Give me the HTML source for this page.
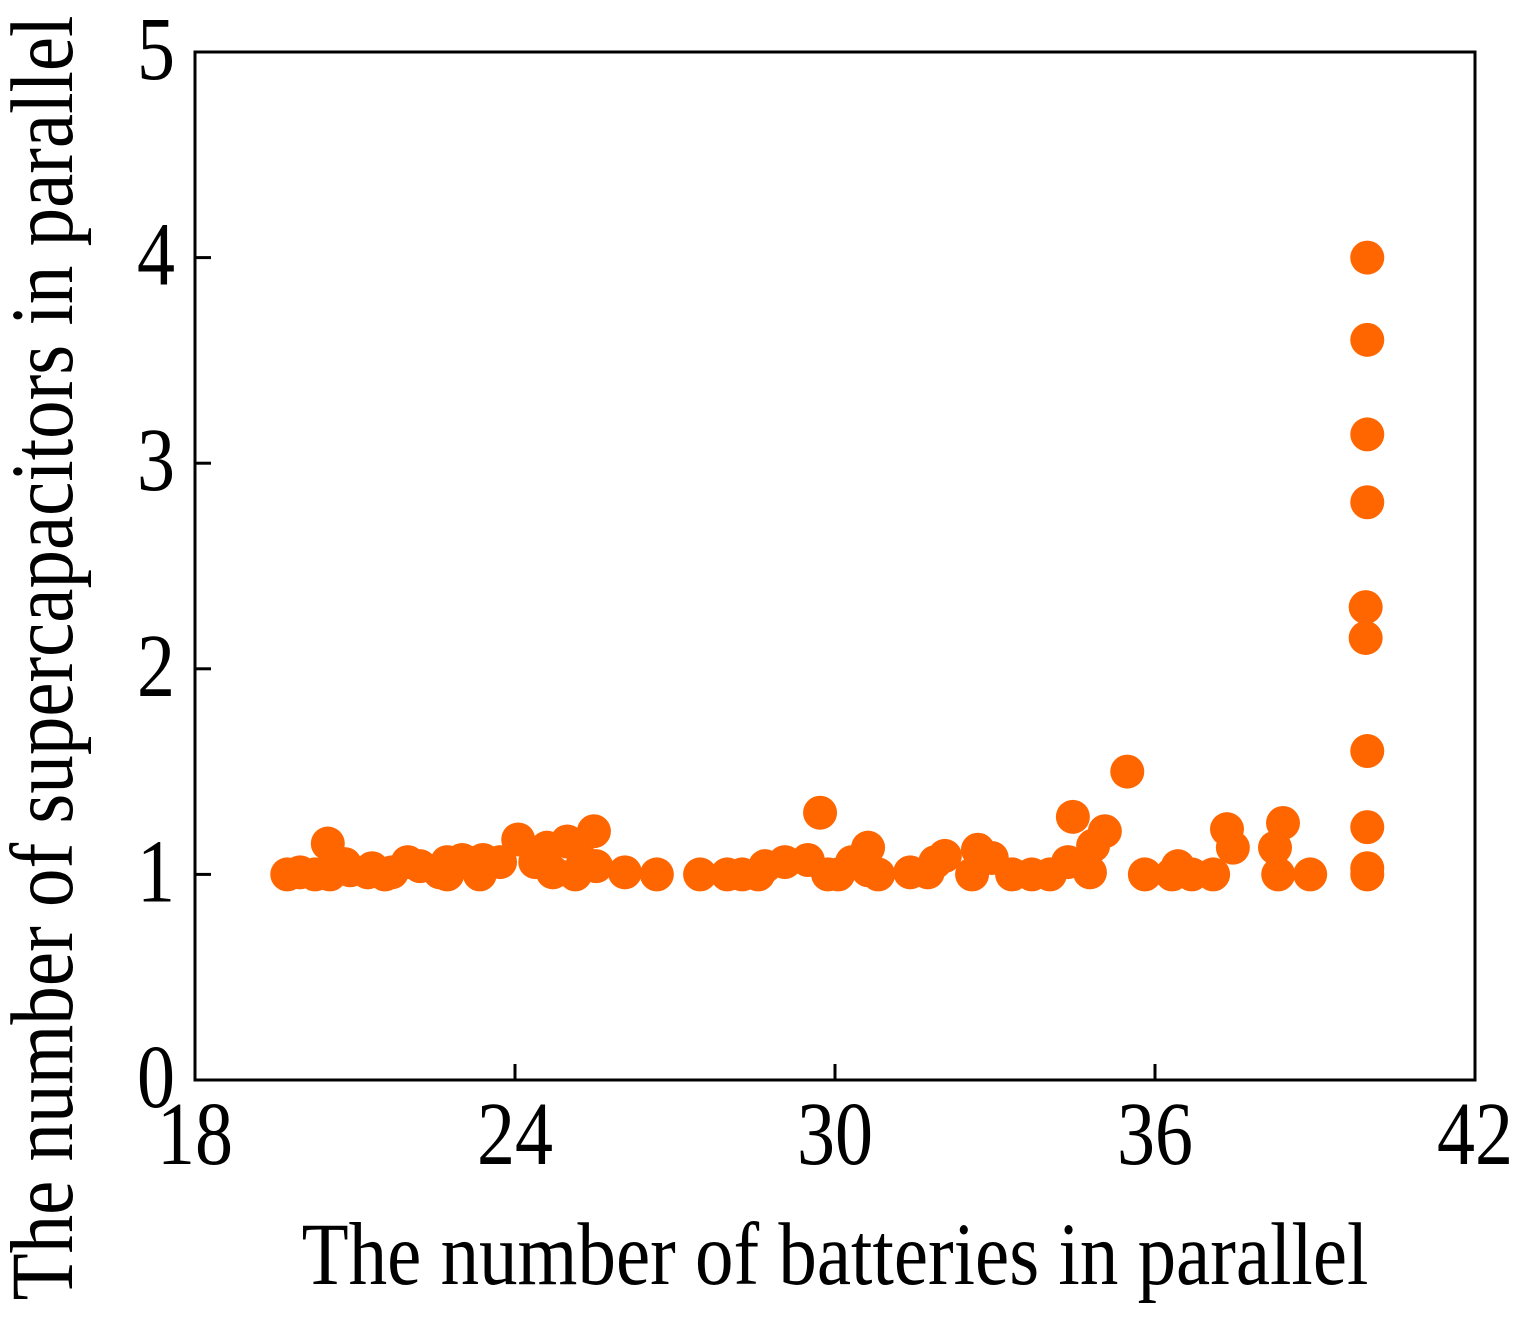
<!DOCTYPE html>
<html><head><meta charset="utf-8"><style>
html,body{margin:0;padding:0;background:#fff}
svg{display:block}
text{font-family:"Liberation Serif",serif;fill:#000}
</style></head><body>
<svg id="chart" width="1528" height="1327" viewBox="0 0 1528 1327" xmlns="http://www.w3.org/2000/svg">
<g id="marks"></g>
<rect x="195" y="52" width="1280" height="1028" fill="none" stroke="#000" stroke-width="3"/>
<g id="axes"></g>
<text transform="translate(835,1284) scale(1,1.15)" font-size="77" text-anchor="middle">The number of batteries in parallel</text>
<text transform="translate(72,658) rotate(-90) scale(1,1.15)" font-size="77" text-anchor="middle">The number of supercapacitors in parallel</text>
</svg>
<script>
const xTicks = [18, 24, 30, 36, 42];
const yTicks = [0, 1, 2, 3, 4, 5];
const xValues = [19.73,19.97,20.25,20.49,20.53,20.81,20.91,21.24,21.32,21.56,21.69,21.99,22.22,22.59,22.73,22.73,23.01,23.10,23.34,23.40,23.72,24.06,24.38,24.60,24.71,24.98,25.13,25.28,25.48,25.52,26.06,26.66,27.47,27.98,28.26,28.56,28.69,29.06,29.49,29.72,29.87,30.06,30.32,30.62,30.62,30.81,31.41,31.74,31.88,32.06,32.57,32.68,32.94,33.32,33.69,34.03,34.37,34.46,34.78,34.84,35.06,35.48,35.81,36.32,36.43,36.69,37.09,37.35,37.46,38.25,38.31,38.40,38.91,39.98,39.98,39.98,39.98,39.95,39.95,39.98,39.98,39.98,39.98];
const yValues = [1.00,1.01,1.00,1.15,1.00,1.05,1.02,1.01,1.03,1.00,1.01,1.06,1.04,1.01,1.00,1.06,1.07,1.06,1.00,1.07,1.06,1.17,1.06,1.13,1.01,1.16,1.00,1.06,1.21,1.04,1.01,1.00,1.00,1.00,1.00,1.00,1.04,1.06,1.07,1.30,1.00,1.00,1.06,1.13,1.02,1.00,1.01,1.01,1.06,1.09,1.00,1.12,1.08,1.00,1.00,1.00,1.06,1.28,1.01,1.14,1.21,1.50,1.00,1.00,1.04,1.00,1.00,1.22,1.13,1.13,1.00,1.25,1.00,4.00,3.60,3.14,2.81,2.30,2.15,1.60,1.23,1.03,1.00];
const X0=195,X1=1475,Y0=1080,Y1=52;
function sx(v){return X0+(v-18)/(42-18)*(X1-X0);}
function sy(v){return Y0-(v-0)/(5-0)*(Y0-Y1);}
const NS="http://www.w3.org/2000/svg";
const marks=document.getElementById('marks');
for(let i=0;i<xValues.length;i++){
  const c=document.createElementNS(NS,'circle');
  c.setAttribute('cx',sx(xValues[i]));c.setAttribute('cy',sy(yValues[i]));
  c.setAttribute('r',17);c.setAttribute('fill','#ff6600');
  
  
  marks.appendChild(c);
}
const axes=document.getElementById('axes');
xTicks.forEach(t=>{
  const l=document.createElementNS(NS,'line');
  l.setAttribute('x1',sx(t));l.setAttribute('x2',sx(t));l.setAttribute('y1',Y0);l.setAttribute('y2',Y0-16);
  l.setAttribute('stroke','#000');l.setAttribute('stroke-width',3);
  
  
  axes.appendChild(l);
  const tx=document.createElementNS(NS,'text');
  tx.setAttribute('transform','translate('+sx(t)+',1164) scale(1,1.18)');
  tx.setAttribute('font-size',76);tx.setAttribute('text-anchor','middle');
  tx.textContent=t;
  
  
  axes.appendChild(tx);
});
yTicks.forEach(t=>{
  const l=document.createElementNS(NS,'line');
  l.setAttribute('x1',X0);l.setAttribute('x2',X0+16);l.setAttribute('y1',sy(t));l.setAttribute('y2',sy(t));
  l.setAttribute('stroke','#000');l.setAttribute('stroke-width',3);
  
  
  axes.appendChild(l);
  const tx=document.createElementNS(NS,'text');
  tx.setAttribute('transform','translate(175,'+(sy(t)+27)+') scale(1,1.18)');
  tx.setAttribute('font-size',76);tx.setAttribute('text-anchor','end');
  tx.textContent=t;
  
  
  axes.appendChild(tx);
});
</script>
</body></html>
